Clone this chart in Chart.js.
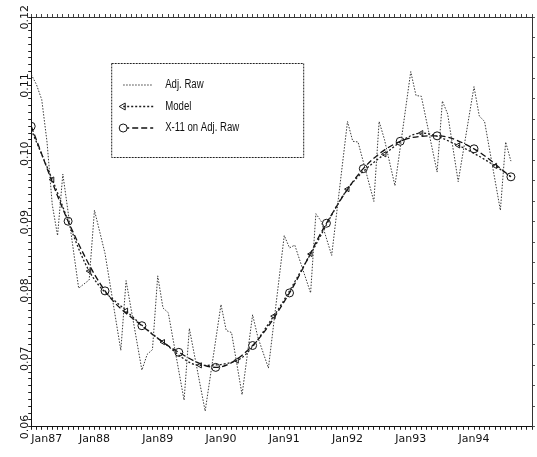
<!DOCTYPE html>
<html>
<head>
<meta charset="utf-8">
<script src="https://cdn.jsdelivr.net/npm/chart.js@4.4.1/dist/chart.umd.min.js"></script>
<style>
  html, body { margin: 0; padding: 0; background: #fff; }
  #wrap { width: 537px; height: 457px; }
</style>
</head>
<body>
<div id="wrap"><canvas id="seriesChart"></canvas></div>
<script>
// month index 0 = Jan87
const tickLabels = ["Jan87", "Jan88", "Jan89", "Jan90", "Jan91", "Jan92", "Jan93", "Jan94"];

const rawMonths = [0, 1, 2, 3, 4, 5, 6, 9, 11, 12, 14, 17, 18, 21, 22, 23, 24, 25, 26, 29, 30, 33, 36, 37, 38, 40, 42, 43, 45,
  48, 49, 50, 53, 54, 55, 57, 60, 61, 62, 65, 66, 67, 69, 72, 73, 74, 77, 78, 79, 81, 84, 85, 86, 89, 90, 91];
const rawValues = [0.1116, 0.1101, 0.1079, 0.1017, 0.0925, 0.0880, 0.0970, 0.0803, 0.0815, 0.0917, 0.0854, 0.0712, 0.0814,
  0.0683, 0.0706, 0.0713, 0.0821, 0.0774, 0.0767, 0.0639, 0.0744, 0.0623, 0.0779, 0.0741, 0.0738, 0.0647, 0.0764, 0.0731,
  0.0686, 0.0880, 0.0862, 0.0866, 0.0796, 0.0912, 0.0901, 0.0851, 0.1047, 0.1018, 0.1017, 0.0930, 0.1047, 0.1021, 0.0953,
  0.1120, 0.1085, 0.1084, 0.0973, 0.1077, 0.1058, 0.0959, 0.1098, 0.1055, 0.1047, 0.0917, 0.1017, 0.0989];

const modelMonths = [0, 4, 11, 18, 25, 32, 39, 46, 53, 60, 67, 74, 81, 88, 91];
const modelValues = [0.1035, 0.0962, 0.0828, 0.0770, 0.0724, 0.0690, 0.0697, 0.0762, 0.0853, 0.0948, 0.0999, 0.1030,
  0.1012, 0.0982, 0.0966];

const x11Months = [0, 7, 14, 21, 28, 35, 42, 49, 56, 63, 70, 77, 84, 91];
const x11Values = [0.1040, 0.0901, 0.0799, 0.0748, 0.0709, 0.0687, 0.0719, 0.0796, 0.0898, 0.0978, 0.1018, 0.1026,
  0.1007, 0.0966];

const pairs = (xs, ys) => xs.map((x, i) => ({ x, y: ys[i] }));

// legend drawn as a box inside the plot, like the original
const boxLegend = {
  id: "boxLegend",
  afterDraw(chart) {
    const ctx = chart.ctx;
    const { left, top } = chart.chartArea;
    const bx = left + 80, by = top + 46, bw = 192, bh = 94;
    ctx.save();
    ctx.fillStyle = "#fff";
    ctx.fillRect(bx, by, bw, bh);
    ctx.strokeStyle = "#222";
    ctx.lineWidth = 1;
    ctx.setLineDash([2, 1]);
    ctx.strokeRect(bx + 0.5, by + 0.5, bw, bh);
    chart.data.datasets.forEach((ds, i) => {
      const y = by + 22 + i * 21.5;
      ctx.setLineDash(ds.borderDash || []);
      ctx.strokeStyle = ds.borderColor;
      ctx.lineWidth = ds.borderWidth;
      ctx.beginPath();
      ctx.moveTo(bx + 12, y);
      ctx.lineTo(bx + 42, y);
      ctx.stroke();
      ctx.setLineDash([]);
      ctx.lineWidth = 1;
      const mx = bx + 12;
      if (ds.pointStyle === "circle") {
        ctx.fillStyle = "#fff";
        ctx.beginPath();
        ctx.arc(mx, y, 4, 0, Math.PI * 2);
        ctx.fill();
        ctx.stroke();
      } else if (ds.pointStyle === "triangle") {
        ctx.beginPath();
        ctx.moveTo(mx - 4, y);
        ctx.lineTo(mx + 2, y - 3.5);
        ctx.lineTo(mx + 2, y + 3.5);
        ctx.closePath();
        ctx.stroke();
      }
      // narrow lettering as in the scan
      ctx.save();
      ctx.translate(bx + 54, y);
      ctx.scale(0.8, 1);
      ctx.fillStyle = "#111";
      ctx.font = '12px "Liberation Sans", sans-serif';
      ctx.textBaseline = "middle";
      ctx.textAlign = "left";
      ctx.fillText(ds.label, 0, 0);
      ctx.restore();
    });
    ctx.restore();
  },
};

const axisFont = { family: '"DejaVu Sans", sans-serif', size: 11 };
const isMajorY = (v) => Math.abs(v * 100 - Math.round(v * 100)) < 1e-6;

new Chart(document.getElementById("seriesChart"), {
  type: "line",
  data: {
    datasets: [
      {
        label: "Adj. Raw",
        data: pairs(rawMonths, rawValues),
        borderColor: "#3a3a3a",
        borderWidth: 1,
        borderDash: [1.5, 1.5],
        pointRadius: 0,
        tension: 0,
        pointStyle: false,
      },
      {
        label: "Model",
        data: pairs(modelMonths, modelValues),
        borderColor: "#1a1a1a",
        borderWidth: 1.3,
        borderDash: [2, 2],
        cubicInterpolationMode: "monotone",
        pointStyle: "triangle",
        rotation: -90,
        pointRadius: (c) => (c.dataIndex === 0 || c.dataIndex === modelMonths.length - 1 ? 0 : 3),
        pointBorderColor: "#1a1a1a",
        pointBackgroundColor: "rgba(0,0,0,0)",
        pointBorderWidth: 1,
      },
      {
        label: "X-11 on Adj. Raw",
        data: pairs(x11Months, x11Values),
        borderColor: "#111",
        borderWidth: 1.3,
        borderDash: [6, 3],
        cubicInterpolationMode: "monotone",
        pointStyle: "circle",
        pointRadius: 4,
        pointBorderColor: "#111",
        pointBackgroundColor: "rgba(255,255,255,0)",
        pointBorderWidth: 1,
      },
    ],
  },
  options: {
    responsive: true,
    maintainAspectRatio: false,
    animation: false,
    layout: { padding: { left: 9, right: 1, top: 14, bottom: 8 } },
    plugins: {
      legend: { display: false },
      tooltip: { enabled: false },
    },
    scales: {
      x: {
        type: "linear",
        position: "bottom",
        min: 0,
        max: 95,
        grid: { drawOnChartArea: false, tickLength: 3, color: "#222" },
        border: { color: "#111", width: 1 },
        ticks: {
          stepSize: 1,
          autoSkip: false,
          align: "inner",
          maxRotation: 0,
          minRotation: 0,
          padding: 3,
          color: "#111",
          font: axisFont,
          callback: (v) => (v % 12 === 0 && tickLabels[v / 12] ? tickLabels[v / 12] : ""),
        },
      },
      xTop: {
        type: "linear",
        position: "top",
        min: 0,
        max: 95,
        grid: { drawOnChartArea: false, tickLength: 3, color: "#444" },
        border: { color: "#333", width: 1, dash: [2, 1] },
        ticks: { display: false, stepSize: 1, autoSkip: false },
      },
      y: {
        type: "linear",
        position: "left",
        min: 0.06,
        max: 0.12,
        grid: { drawOnChartArea: false, tickLength: 3, color: "#222" },
        border: { color: "#111", width: 1 },
        ticks: {
          stepSize: 0.001,
          autoSkip: false,
          minRotation: 90,
          maxRotation: 90,
          labelOffset: -12,
          padding: 3,
          color: "#111",
          font: axisFont,
          callback: (v) => (isMajorY(v) ? v.toFixed(2) : ""),
        },
      },
      yRight: {
        type: "linear",
        position: "right",
        min: 0.06,
        max: 0.12,
        grid: { drawOnChartArea: false, tickLength: 3, color: "#555" },
        border: { color: "#333", width: 1, dash: [2, 2] },
        ticks: { display: false, stepSize: 0.003, autoSkip: false },
      },
    },
  },
  plugins: [boxLegend],
});
</script>
</body>
</html>
